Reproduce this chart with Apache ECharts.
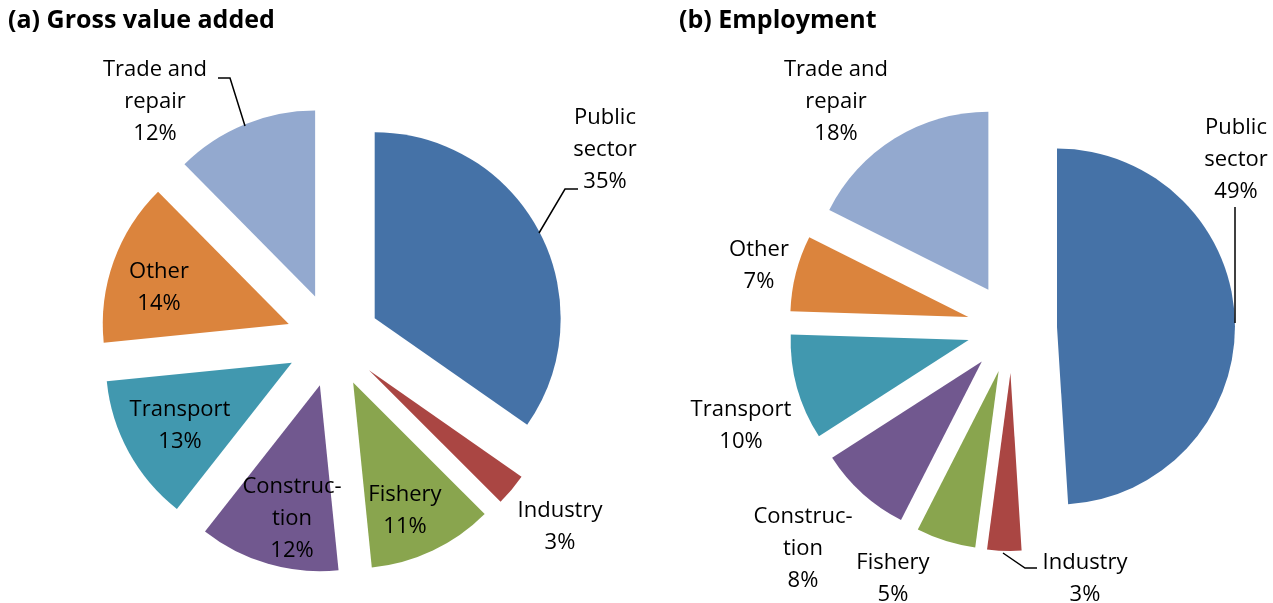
<!DOCTYPE html>
<html>
<head>
<meta charset="utf-8">
<script src="https://cdn.jsdelivr.net/npm/echarts@6/dist/echarts.min.js"></script>
<style>
  html, body { margin: 0; background: #fff; }
  #chart { width: 1273px; height: 603px; }
</style>
</head>
<body>
<div id="chart"></div>
<script>
// categories, clockwise from 12 o'clock
const sectors = ['Public sector', 'Industry', 'Fishery', 'Construction', 'Transport', 'Other', 'Trade and repair']
const sectorLabels = ['Public\nsector', 'Industry', 'Fishery', 'Construc-\ntion', 'Transport', 'Other', 'Trade and\nrepair']
// shares in % (printed labels are rounded)
const grossValueAdded = [34.7, 2.8, 10.9, 12.2, 12.8, 14.2, 12.4]
const employment = [49.0, 3.1, 5.4, 8.4, 9.6, 6.9, 17.6]

const colors = ['#4572A7', '#AA4643', '#89A54E', '#71588F', '#4198AF', '#DB843D', '#93A9CF']
const font = '"Open Sans", Lato, sans-serif'

// label centres and leader lines for each chart
const gvaLabelPos = [[605, 150], [560, 527], [405, 511], [292, 519], [180, 426], [159, 288], [155, 102]]
const gvaLeaders = [
  [[539, 233], [565, 189], [578, 189]],
  [[245, 126], [230, 78], [218, 78]]
]
const empLabelPos = [[1236, 160], [1085, 579], [893, 579], [803, 549], [741, 426], [759, 266], [836, 102]]
const empLeaders = [
  [[1235, 323], [1235, 207]],
  [[1003, 553], [1025, 568], [1037, 568]]
]

function pieSeries(values, center, radius, offset) {
  return {
    type: 'pie',
    center: center,
    radius: radius,
    startAngle: 90,
    clockwise: true,
    selectedMode: 'multiple',
    selectedOffset: offset,
    emphasis: { disabled: true },
    label: { show: false },
    labelLine: { show: false },
    data: values.map(function (v, i) {
      return { name: sectors[i], value: v, selected: true }
    })
  }
}

// text labels + leader lines drawn as graphics, above the slices
function labelGraphics(values, labelPos, leaders) {
  const total = values.reduce(function (a, b) { return a + b }, 0)
  const items = values.map(function (v, i) {
    return {
      type: 'text',
      silent: true,
      z: 100,
      style: {
        text: sectorLabels[i] + '\n' + Math.round(v / total * 100) + '%',
        x: labelPos[i][0],
        y: labelPos[i][1],
        align: 'center',
        verticalAlign: 'middle',
        fill: '#000',
        fontFamily: font,
        fontSize: 22,
        lineHeight: 32
      }
    }
  })
  leaders.forEach(function (pts) {
    items.push({
      type: 'polyline',
      silent: true,
      z: 100,
      shape: { points: pts },
      style: { stroke: '#000', lineWidth: 1.5, fill: null }
    })
  })
  return items
}

const chart = echarts.init(document.getElementById('chart'))
chart.setOption({
  animation: false,
  color: colors,
  title: [
    {
      text: '(a) Gross value added',
      left: 8,
      top: 8,
      padding: 0,
      textStyle: { fontFamily: font, fontSize: 25, fontWeight: 'bold', color: '#000' }
    },
    {
      text: '(b) Employment',
      left: 679,
      top: 8,
      padding: 0,
      textStyle: { fontFamily: font, fontSize: 25, fontWeight: 'bold', color: '#000' }
    }
  ],
  graphic: labelGraphics(grossValueAdded, gvaLabelPos, gvaLeaders)
    .concat(labelGraphics(employment, empLabelPos, empLeaders)),
  series: [
    pieSeries(grossValueAdded, [333, 340], 186, 47),
    pieSeries(employment, [1012, 328], 178, 45)
  ]
})
</script>
</body>
</html>
